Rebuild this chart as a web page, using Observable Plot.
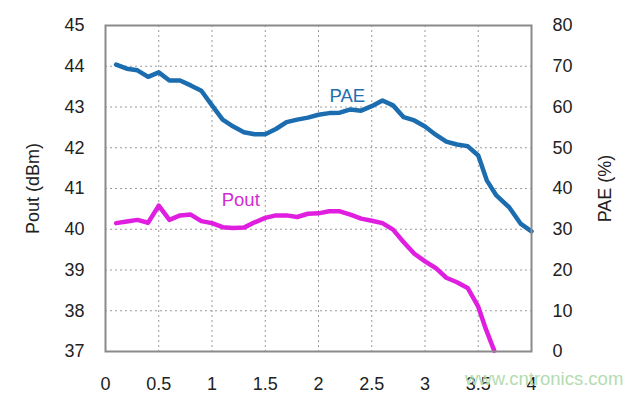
<!DOCTYPE html>
<html>
<head>
<meta charset="utf-8">
<script src="https://cdn.jsdelivr.net/npm/d3@7"></script>
<script src="https://cdn.jsdelivr.net/npm/@observablehq/plot@0.6"></script>
<style>
  html, body { margin: 0; padding: 0; background: #fff; }
  #chart { position: relative; width: 639px; height: 393px; }
  #wm { position: absolute; left: 465px; top: 368px; font: 18.5px "Liberation Sans", Arial, sans-serif; color: #b4dcae; white-space: nowrap; }
</style>
</head>
<body>
<div id="chart"></div>
<script>
// Pin (W) shared by both series
const paeX = [0.1,0.2,0.3,0.4,0.5,0.6,0.7,0.8,0.9,1.0,1.1,1.2,1.3,1.4,1.5,1.6,1.7,1.8,1.9,2.0,2.1,2.2,2.3,2.4,2.5,2.6,2.7,2.8,2.9,3.0,3.1,3.2,3.3,3.4,3.5,3.58,3.67,3.79,3.9,4.0];
const paeY = [70.4,69.4,69.0,67.4,68.5,66.5,66.5,65.3,64.0,60.4,56.9,55.2,53.8,53.3,53.3,54.6,56.3,56.9,57.4,58.1,58.5,58.6,59.4,59.1,60.2,61.6,60.4,57.5,56.7,55.2,53.2,51.5,50.8,50.4,48.1,42.0,38.3,35.4,31.3,29.5];
const poutX = [0.1,0.2,0.3,0.4,0.5,0.6,0.7,0.8,0.9,1.0,1.1,1.2,1.3,1.4,1.5,1.6,1.7,1.8,1.9,2.0,2.1,2.2,2.3,2.4,2.5,2.6,2.7,2.8,2.9,3.0,3.1,3.2,3.3,3.4,3.5,3.57,3.65];
const poutY = [40.15,40.19,40.23,40.16,40.58,40.23,40.34,40.36,40.20,40.15,40.05,40.03,40.04,40.17,40.28,40.34,40.34,40.30,40.38,40.39,40.44,40.44,40.36,40.26,40.21,40.15,39.99,39.68,39.40,39.21,39.05,38.81,38.70,38.56,38.10,37.56,37.02];
const xTicks = [0,0.5,1,1.5,2,2.5,3,3.5,4];
const leftTicks = [37,38,39,40,41,42,43,44,45];
const rightTicks = [0,10,20,30,40,50,60,70,80];

const pae = paeX.map((x, i) => ({x, y: 37 + paeY[i] / 10}));
const pout = poutX.map((x, i) => ({x, y: poutY[i]}));
const font = '"Liberation Sans", Arial, sans-serif';

const chart = Plot.plot({
  width: 639,
  height: 393,
  marginLeft: 105,
  marginRight: 108,
  marginTop: 25,
  marginBottom: 42,
  style: {fontFamily: font, fontSize: "18px", color: "#222", background: "#fff", overflow: "visible"},
  x: {domain: [0, 4]},
  y: {domain: [37, 45]},
  marks: [
    Plot.gridX(xTicks.slice(1, -1), {stroke: "#9a9a9a", strokeOpacity: 1, strokeDasharray: "2,3", strokeWidth: 1}),
    Plot.gridY(leftTicks.slice(1, -1), {stroke: "#9a9a9a", strokeOpacity: 1, strokeDasharray: "2,3", strokeWidth: 1}),
    Plot.axisX(xTicks, {tickSize: 0, tickPadding: 26, fontSize: 18, tickFormat: d => String(d), label: null}),
    Plot.axisY(leftTicks, {anchor: "left", tickSize: 0, tickPadding: 21, fontSize: 18, label: null}),
    Plot.axisY(leftTicks, {anchor: "right", tickSize: 0, tickPadding: 21, fontSize: 18, tickFormat: (d, i) => String(rightTicks[i]), label: null}),
    Plot.line(pout, {x: "x", y: "y", stroke: "#e01ee0", strokeWidth: 4.5, strokeLinejoin: "round", strokeLinecap: "round"}),
    Plot.line(pae, {x: "x", y: "y", stroke: "#1b6db0", strokeWidth: 4.5, strokeLinejoin: "round", strokeLinecap: "round"}),
    Plot.frame({stroke: "#8a8a8a", strokeWidth: 2}),
    Plot.text(["PAE"], {x: 2.27, y: 37 + 62.7 / 10, text: d => d, fill: "#2370ad", fontSize: 18.5, textAnchor: "middle"}),
    Plot.text(["Pout"], {x: 1.27, y: 40.72, text: d => d, fill: "#d22cd2", fontSize: 18.5, textAnchor: "middle"}),
    Plot.text(["Pout (dBm)"], {frameAnchor: "left", dx: -72, rotate: -90, textAnchor: "middle", text: d => d, fontSize: 18, fill: "#222"}),
    Plot.text(["PAE (%)"], {frameAnchor: "right", dx: 74, rotate: -90, textAnchor: "middle", text: d => d, fontSize: 18, fill: "#222"})
  ]
});
const div = document.getElementById("chart");
div.appendChild(chart);
const wm = document.createElement("div");
wm.id = "wm";
wm.textContent = "www.cntronics.com";
div.appendChild(wm);
</script>
</body>
</html>
